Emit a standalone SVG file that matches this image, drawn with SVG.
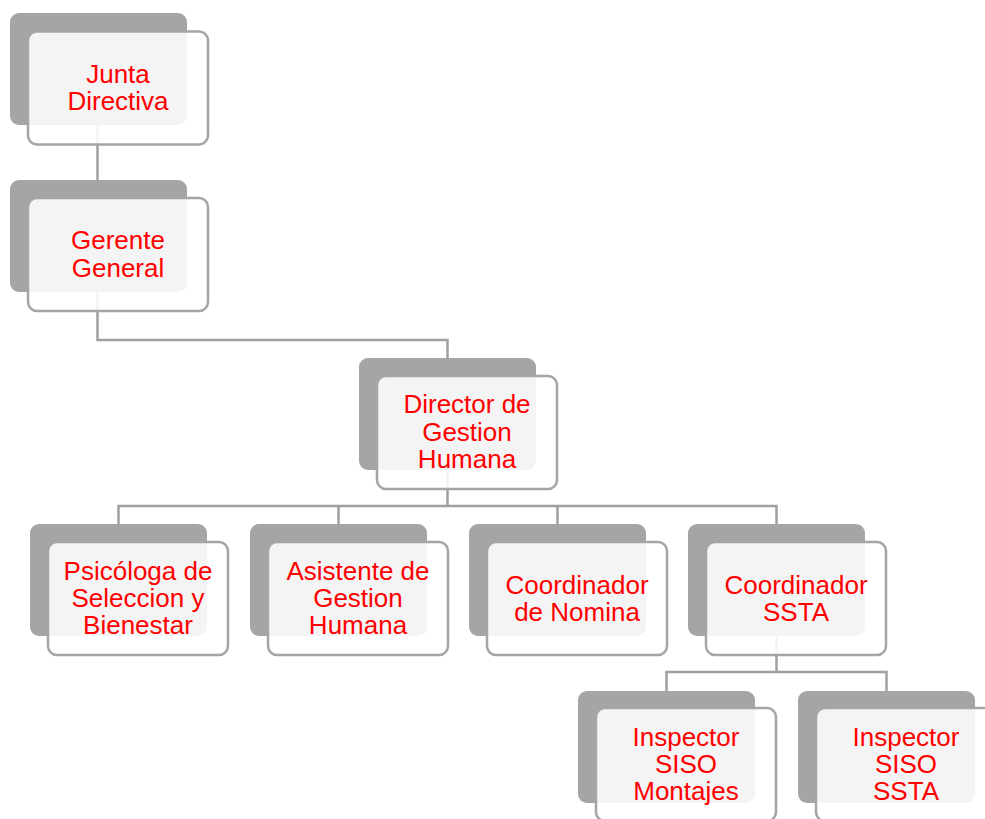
<svg xmlns="http://www.w3.org/2000/svg" width="985" height="819" viewBox="0 0 985 819">
<style>
.bk{fill:#a5a5a5}
.fr{fill:#ffffff;fill-opacity:0.88;stroke:#a5a5a5;stroke-width:2.5}
.t{font-family:"Liberation Sans",Arial,sans-serif;font-size:26px;fill:#ff0000;text-anchor:middle}
.c{fill:none;stroke:#a0a0a0;stroke-width:2.5}
</style>
<rect width="985" height="819" fill="#ffffff"/>
<g id="connectors">
<path class="c" d="M97.5 125V180"/>
<path class="c" d="M97.5 291V340H447.5V358"/>
<path class="c" d="M447.5 469V506"/>
<path class="c" d="M118.5 524V506H776.5V524M338.5 506V524M557.5 506V524"/>
<path class="c" d="M776.5 635V672"/>
<path class="c" d="M666.5 691V672H886.5V691"/>
</g>
<g id="n1">
<rect class="bk" x="10" y="13" width="177" height="112" rx="9"/>
<rect class="fr" x="28" y="31.5" width="180" height="113" rx="9"/>
<text class="t" x="118" y="83">Junta</text>
<text class="t" x="118" y="110">Directiva</text>
</g>
<g id="n2">
<rect class="bk" x="10" y="180" width="177" height="112" rx="9"/>
<rect class="fr" x="28" y="198" width="180" height="113" rx="9"/>
<text class="t" x="118" y="249">Gerente</text>
<text class="t" x="118" y="276.5">General</text>
</g>
<g id="n3">
<rect class="bk" x="359" y="358" width="177" height="112" rx="9"/>
<rect class="fr" x="377" y="376" width="180" height="113" rx="9"/>
<text class="t" x="467" y="413">Director de</text>
<text class="t" x="467" y="440.5">Gestion</text>
<text class="t" x="467" y="468">Humana</text>
</g>
<g id="n4">
<rect class="bk" x="30" y="524" width="177" height="112" rx="9"/>
<rect class="fr" x="48" y="542" width="180" height="113" rx="9"/>
<text class="t" x="138" y="580">Psicóloga de</text>
<text class="t" x="138" y="607">Seleccion y</text>
<text class="t" x="138" y="634">Bienestar</text>
</g>
<g id="n5">
<rect class="bk" x="250" y="524" width="177" height="112" rx="9"/>
<rect class="fr" x="268" y="542" width="180" height="113" rx="9"/>
<text class="t" x="358" y="580">Asistente de</text>
<text class="t" x="358" y="607">Gestion</text>
<text class="t" x="358" y="634">Humana</text>
</g>
<g id="n6">
<rect class="bk" x="469" y="524" width="177" height="112" rx="9"/>
<rect class="fr" x="487" y="542" width="180" height="113" rx="9"/>
<text class="t" x="577" y="594">Coordinador</text>
<text class="t" x="577" y="621">de Nomina</text>
</g>
<g id="n7">
<rect class="bk" x="688" y="524" width="177" height="112" rx="9"/>
<rect class="fr" x="706" y="542" width="180" height="113" rx="9"/>
<text class="t" x="796" y="594">Coordinador</text>
<text class="t" x="796" y="621">SSTA</text>
</g>
<g id="n8">
<rect class="bk" x="578" y="691" width="177" height="112" rx="9"/>
<rect class="fr" x="596" y="708" width="180" height="113" rx="9"/>
<text class="t" x="686" y="746">Inspector</text>
<text class="t" x="686" y="773">SISO</text>
<text class="t" x="686" y="800">Montajes</text>
</g>
<g id="n9">
<rect class="bk" x="798" y="691" width="177" height="112" rx="9"/>
<rect class="fr" x="816" y="708" width="180" height="113" rx="9"/>
<text class="t" x="906" y="746">Inspector</text>
<text class="t" x="906" y="773">SISO</text>
<text class="t" x="906" y="800">SSTA</text>
</g>
</svg>
